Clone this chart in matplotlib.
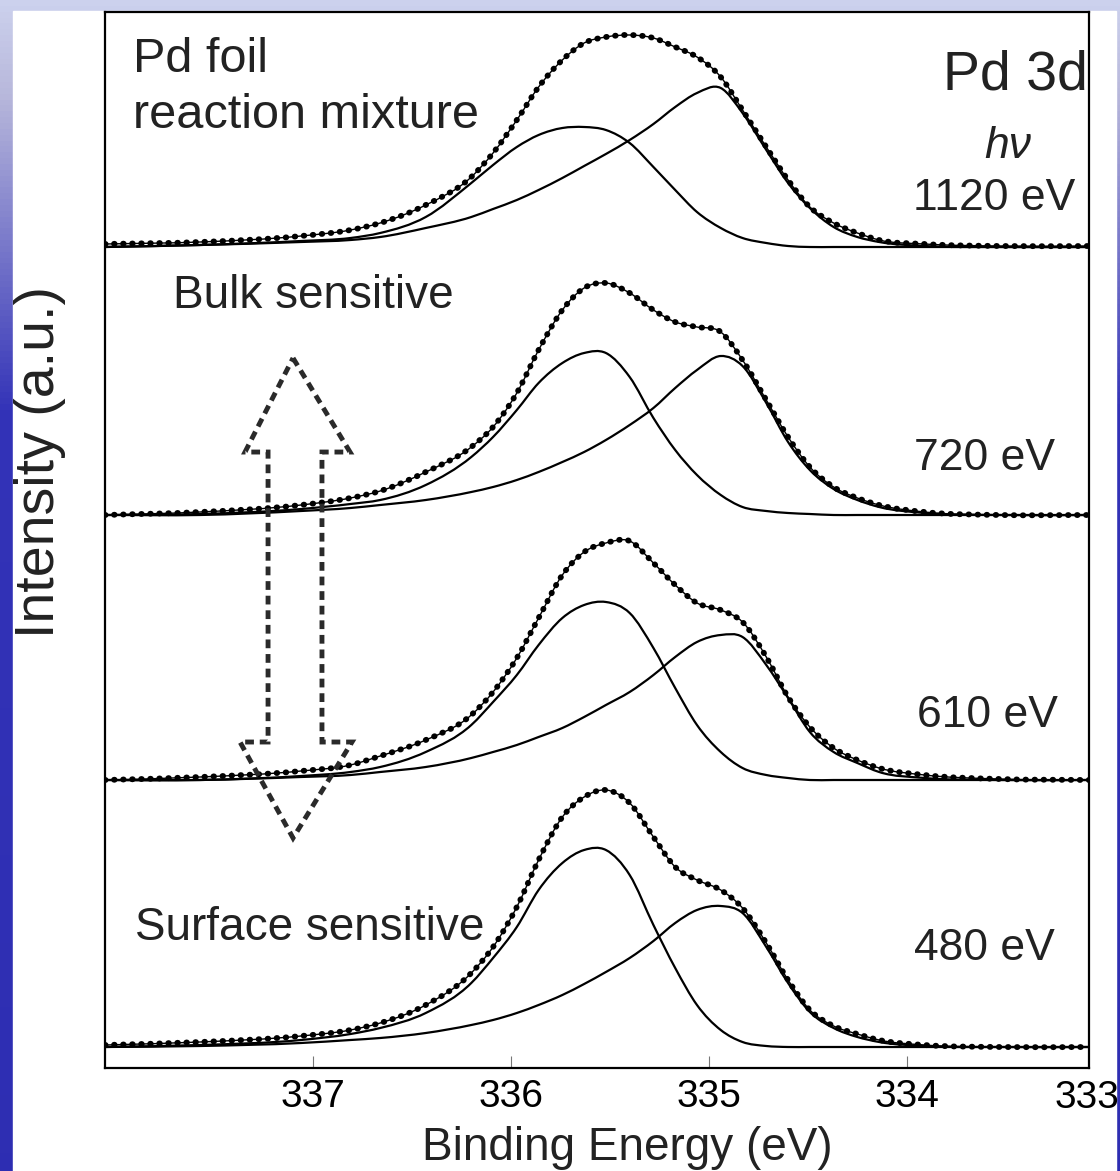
import numpy as np
import matplotlib
matplotlib.use("Agg")
import matplotlib.pyplot as plt
from matplotlib.patches import Polygon, Rectangle, PathPatch
from matplotlib.path import Path

plt.rcParams['font.family'] = ['Liberation Sans', 'DejaVu Sans']

# binding energy grid (eV), shared by every curve
energy = [338.05, 337.57, 337.06, 336.81, 336.66, 336.43, 336.20, 336.09,
          335.97, 335.86, 335.74, 335.63, 335.52, 335.40, 335.28, 335.17,
          335.06, 334.94, 334.83, 334.71, 334.60, 334.49, 334.37, 334.25,
          334.14, 333.91, 333.53, 333.08]

photon = ['1120 eV', '720 eV', '610 eV', '480 eV']
offsets = [821, 553, 288, 21]

# measured envelope (dotted) and the two fitted components, per photon energy
env_1120 = [3, 5, 11, 17, 24, 42, 70, 94, 127, 160, 187, 204, 210, 212,
            209, 200, 190, 170, 137, 100, 67, 40, 24, 14, 7, 3, 1, 1]
hi_1120 = [0, 2, 6, 9, 14, 30, 64, 82, 100, 112, 119, 120, 117, 104,
           80, 57, 35, 19, 9, 4, 1, 0, 0, 0, 0, 0, 0, 0]
lo_1120 = [0, 2, 5, 7, 10, 19, 30, 38, 47, 57, 69, 81, 93, 107,
           123, 140, 154, 159, 134, 97, 64, 39, 20, 10, 5, 1, 0, 0]

env_720 = [0, 3, 10, 17, 24, 43, 68, 88, 122, 165, 205, 227, 232, 222,
           205, 193, 188, 183, 155, 115, 78, 48, 28, 17, 10, 3, 0, 0]
hi_720 = [0, 1, 6, 11, 15, 30, 58, 78, 105, 132, 152, 162, 162, 138,
          97, 65, 40, 20, 8, 4, 2, 1, 0, 0, 0, 0, 0, 0]
lo_720 = [0, 0, 4, 7, 10, 15, 23, 28, 35, 43, 53, 63, 75, 90,
          107, 127, 145, 159, 149, 112, 73, 45, 26, 15, 8, 2, 0, 0]

env_610 = [0, 3, 9, 15, 24, 40, 65, 88, 122, 162, 205, 228, 237, 239,
           217, 195, 177, 170, 158, 123, 83, 53, 32, 20, 12, 5, 1, 0]
hi_610 = [0, 0, 4, 8, 13, 28, 55, 78, 105, 135, 162, 175, 178, 167,
          132, 92, 55, 28, 12, 5, 2, 0, 0, 0, 0, 0, 0, 0]
lo_610 = [0, 0, 3, 5, 8, 13, 22, 28, 35, 43, 52, 63, 75, 88,
          105, 123, 138, 145, 143, 115, 82, 48, 28, 17, 8, 2, 0, 0]

env_480 = [2, 5, 11, 17, 24, 42, 74, 100, 140, 187, 230, 250, 257, 244,
           210, 180, 167, 157, 139, 104, 67, 37, 21, 13, 7, 2, 0, 0]
hi_480 = [0, 2, 7, 13, 19, 34, 64, 89, 120, 157, 184, 197, 197, 172,
          122, 79, 42, 17, 5, 1, 0, 0, 0, 0, 0, 0, 0, 0]
lo_480 = [0, 1, 4, 7, 9, 14, 22, 27, 34, 42, 52, 63, 75, 89,
          106, 124, 137, 141, 134, 100, 64, 35, 19, 10, 5, 1, 0, 0]

envelopes = [env_1120, env_720, env_610, env_480]
high_be = [hi_1120, hi_720, hi_610, hi_480]
low_be = [lo_1120, lo_720, lo_610, lo_480]

xticks = [337, 336, 335, 334, 333]

W, H = 1120, 1171


def smooth_path(x, y):
    # smooth line through every read point (cubic Hermite, uneven spacing aware)
    x = np.asarray(x, float)
    y = np.asarray(y, float)
    m = np.gradient(y, x)
    verts = [(x[0], y[0])]
    codes = [Path.MOVETO]
    for i in range(len(x) - 1):
        dx = x[i + 1] - x[i]
        verts += [(x[i] + dx / 3, y[i] + m[i] * dx / 3),
                  (x[i + 1] - dx / 3, y[i + 1] - m[i + 1] * dx / 3),
                  (x[i + 1], y[i + 1])]
        codes += [Path.CURVE4] * 3
    return Path(verts, codes)


fig = plt.figure(figsize=(W / 100, H / 100), dpi=100)

# slide background: blue gradient with a white card
bg = fig.add_axes([0, 0, 1, 1], zorder=-10)
bg.axis('off')
yy = np.linspace(0, 1, 200)
top_c = [0.80, 0.82, 0.93]
lite_c = [0.72, 0.72, 0.86]
mid_c = [0.20, 0.20, 0.72]
cols = np.array([np.interp(yy, [0, 0.08, 0.35, 1], [top_c[i], lite_c[i], mid_c[i], mid_c[i] - 0.02])
                 for i in range(3)]).T
bg.imshow(cols[:, None, :], aspect='auto', extent=[0, 1, 0, 1])
bg.add_patch(Rectangle((13 / W, 0), (1116 - 13) / W, 1 - 11 / H, color='white'))
bg.set_xlim(0, 1)
bg.set_ylim(0, 1)

ax = fig.add_axes([105 / W, 103 / H, 984 / W, 1056 / H])
ax.set_zorder(1)

for env, a, b, off in zip(envelopes, high_be, low_be, offsets):
    a = np.array(a) + off
    b = np.array(b) + off
    e = np.array(env) + off
    for comp in (a, b):
        ax.add_patch(PathPatch(smooth_path(energy, comp), fill=False, edgecolor='k', lw=1.6))
    ax.add_patch(PathPatch(smooth_path(energy, e), fill=False, edgecolor='k', lw=1.0))
    ax.add_patch(PathPatch(smooth_path(energy, e), fill=False, edgecolor='k', lw=4.2,
                           ls=(0, (0.1, 1.45)), capstyle='round'))

ax.set_xlim(338.05, 333.08)
ax.set_ylim(0, 1056)
ax.set_yticks([])
ax.set_xticks(xticks[:-1])
ax.tick_params(axis='x', direction='in', length=9, width=0.8, color='#777777',
               labelsize=28, pad=8)
for s in ax.spines.values():
    s.set_linewidth(1.6)

# dashed double arrow
arrow_pts = [(0.1911, 0.6723), (0.2490, 0.5833), (0.2205, 0.5833), (0.2205, 0.3087),
             (0.2510, 0.3087), (0.1911, 0.2178), (0.1372, 0.3087), (0.1657, 0.3087),
             (0.1657, 0.5833), (0.1423, 0.5833)]
ax.add_patch(Polygon(arrow_pts, closed=True, transform=ax.transAxes, fill=False,
                     edgecolor='#2a2a2a', lw=3.5, ls=(0, (1.8, 1.2))))


def ftxt(x, y, s, **kw):
    fig.text(x / W, 1 - y / H, s, color='#222222', **kw)


ftxt(133, 72, 'Pd foil', fontsize=35, va='baseline')
ftxt(133, 128, 'reaction mixture', fontsize=35, va='baseline')
ftxt(173, 308, 'Bulk sensitive', fontsize=33, va='baseline')
ftxt(135, 940, 'Surface sensitive', fontsize=33, va='baseline')
ftxt(1088, 90, 'Pd 3d', fontsize=40, ha='right', va='baseline')
ftxt(1008, 158, 'hν', fontsize=32, ha='center', va='baseline', style='italic')

label_pos = [(1075, 210), (1055, 470), (1058, 727), (1055, 960)]
for lab, (x, y) in zip(photon, label_pos):
    ftxt(x, y, lab, fontsize=32, ha='right', va='baseline')

# last tick value sits just outside the frame, squeezed against the right edge
fig.text(1119 / W, 1 - 1080 / H, str(xticks[-1]), fontsize=28, ha='right', va='top')

ftxt(627, 1160, 'Binding Energy (eV)', fontsize=33, ha='center', va='baseline')
ftxt(40, 462, 'Intensity (a.u.)', fontsize=40, ha='center', va='center', rotation=90)

fig.savefig('out.png', dpi=100)
